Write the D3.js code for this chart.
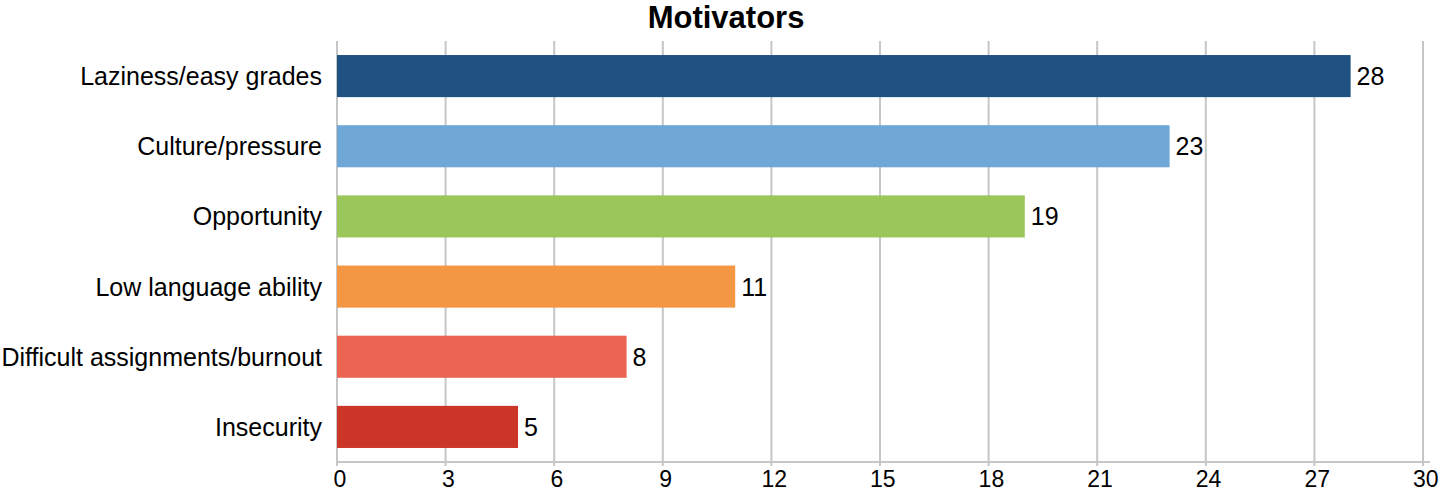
<!DOCTYPE html>
<html lang="en">
<head>
<meta charset="UTF-8">
<title>Motivators</title>
<style>
  body { margin: 0; background: #fff; }
  svg text { font-family: "Liberation Sans", Arial, Helvetica, sans-serif; fill: #000; }
</style>
</head>
<body>
<div id="chart"></div>
<script src="https://d3js.org/d3.v7.min.js"></script>
<script>
// data
var categories = ["Laziness/easy grades", "Culture/pressure", "Opportunity",
  "Low language ability", "Difficult assignments/burnout", "Insecurity"];
var counts = [28, 23, 19, 11, 8, 5];
var barColors = ["#1f5182", "#6fa8d6", "#9bc65a", "#f39744", "#ec6553", "#cb3628"];
var xTicks = [0, 3, 6, 9, 12, 15, 18, 21, 24, 27, 30];

var W = 1440, H = 493;
var margin = { top: 41, right: 17, bottom: 31, left: 337 };
var width = W - margin.left - margin.right,
    height = H - margin.top - margin.bottom;

var svg = d3.select("#chart").append("svg")
  .attr("width", W).attr("height", H);

svg.append("text")
  .attr("x", 726).attr("y", 28)
  .attr("text-anchor", "middle")
  .style("font-size", "31px").style("font-weight", "bold")
  .text("Motivators");

var g = svg.append("g")
  .attr("transform", "translate(" + margin.left + "," + margin.top + ")");

var x = d3.scaleLinear().domain([0, 30]).range([0, 1086]);
var y = d3.scaleBand().domain(categories).range([0, height]).paddingInner(0.4).paddingOuter(0.2);

// grid lines
g.selectAll(".grid").data(xTicks).enter().append("line")
  .attr("x1", function (d) { return x(d); })
  .attr("x2", function (d) { return x(d); })
  .attr("y1", 0).attr("y2", height + 4)
  .attr("stroke", "#c6c6c6").attr("stroke-width", 2);

// x axis
var xAxis = g.append("g")
  .attr("transform", "translate(0," + height + ")")
  .call(d3.axisBottom(x).tickValues(xTicks).tickSize(0).tickPadding(9));
xAxis.select(".domain").remove();
xAxis.append("line")
  .attr("x1", 0).attr("x2", 1093)
  .attr("stroke", "#c6c6c6").attr("stroke-width", 2);
xAxis.selectAll("text")
  .attr("dx", "0.1em")
  .style("font-size", "23px")
  .style("font-family", "'Liberation Sans', Arial, sans-serif")
  .attr("fill", "#000");

// y labels
g.selectAll(".lab").data(categories).enter().append("text")
  .attr("x", -15)
  .attr("y", function (d) { return y(d) + y.bandwidth() / 2; })
  .attr("dy", "0.36em")
  .attr("text-anchor", "end")
  .style("font-size", "25px")
  .text(function (d) { return d; });

// bars
g.selectAll(".bar").data(counts).enter().append("rect")
  .attr("x", x(0))
  .attr("y", function (d, i) { return y(categories[i]); })
  .attr("width", function (d) { return x(d) - x(0); })
  .attr("height", y.bandwidth())
  .attr("fill", function (d, i) { return barColors[i]; });

// value labels
g.selectAll(".val").data(counts).enter().append("text")
  .attr("x", function (d) { return x(d) + 6; })
  .attr("y", function (d, i) { return y(categories[i]) + y.bandwidth() / 2; })
  .attr("dy", "0.36em")
  .style("font-size", "25px")
  .text(function (d) { return d; });
</script>
</body>
</html>
